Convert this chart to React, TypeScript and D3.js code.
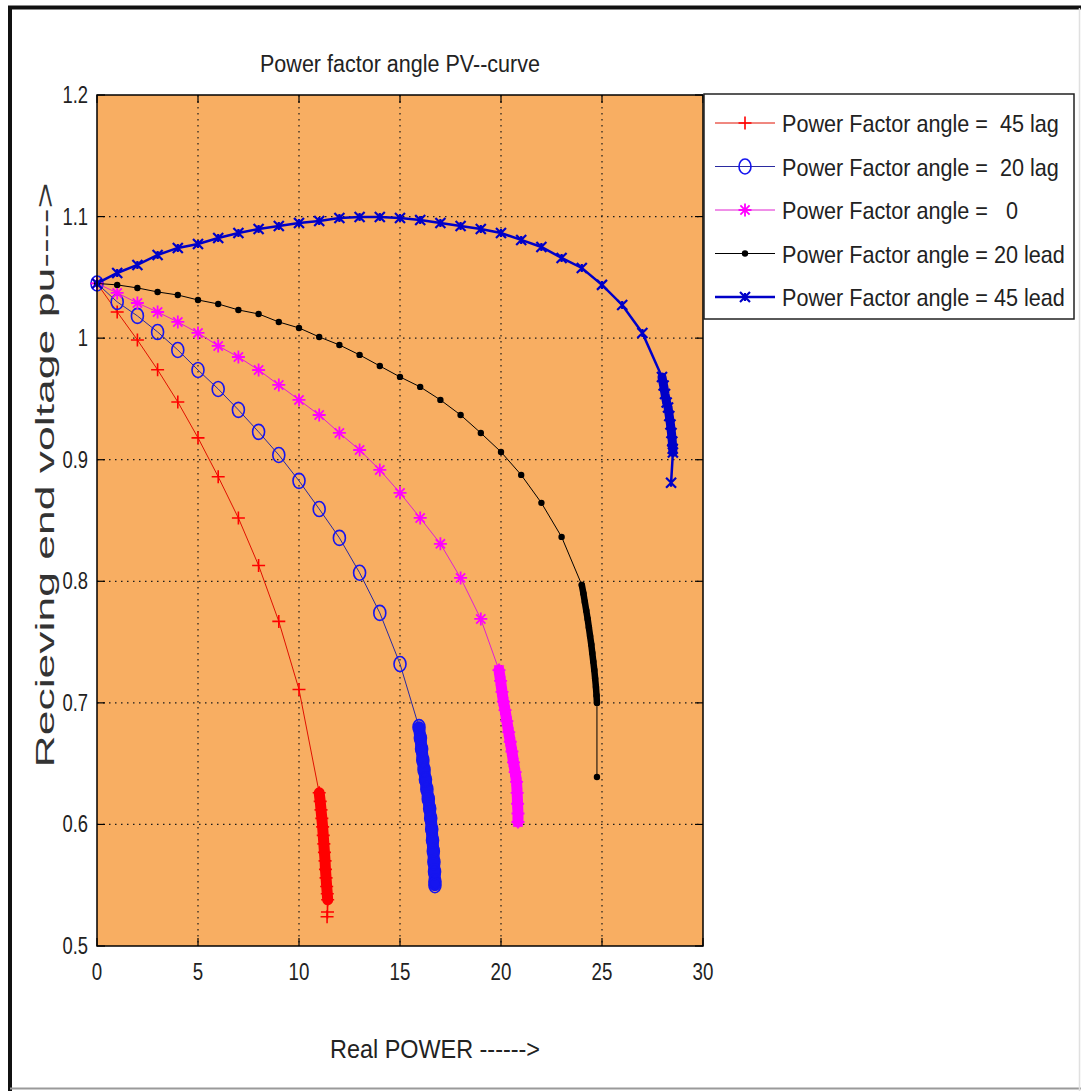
import * as d3 from "d3";

const lag45: [number, number][] = [
  [0, 1.045], [1, 1.0215], [2, 0.9985], [3, 0.974], [4, 0.9475], [5, 0.918], [6, 0.886],
  [7, 0.852], [8, 0.813], [9, 0.767], [10, 0.711],
  [11.0, 0.626], [11.05, 0.619], [11.09, 0.612], [11.13, 0.605], [11.17, 0.598], [11.2, 0.591],
  [11.23, 0.584], [11.26, 0.577], [11.29, 0.57], [11.31, 0.563], [11.34, 0.556], [11.37, 0.549],
  [11.4, 0.543], [11.42, 0.538], [11.41, 0.528], [11.39, 0.524],
];
const lag20: [number, number][] = [
  [0, 1.045], [1, 1.0298], [2, 1.0183], [3, 1.0051], [4, 0.9903], [5, 0.9738], [6, 0.9582],
  [7, 0.941], [8, 0.9229], [9, 0.9039], [10, 0.8826], [11, 0.8595], [12, 0.8357], [13, 0.807],
  [14, 0.774], [15, 0.732],
  [15.94, 0.68], [16.01, 0.671], [16.07, 0.662], [16.13, 0.653], [16.19, 0.645], [16.26, 0.637],
  [16.33, 0.629], [16.4, 0.621], [16.47, 0.613], [16.52, 0.605], [16.57, 0.596], [16.61, 0.587],
  [16.65, 0.578], [16.68, 0.569], [16.71, 0.561], [16.73, 0.553], [16.73, 0.55],
];
const unity: [number, number][] = [
  [0, 1.045], [1, 1.0372], [2, 1.0289], [3, 1.0215], [4, 1.0133], [5, 1.0043], [6, 0.9936],
  [7, 0.9845], [8, 0.9738], [9, 0.9615], [10, 0.9492], [11, 0.9368], [12, 0.922], [13, 0.908],
  [14, 0.8916], [15, 0.8727], [16, 0.8521], [17, 0.8308], [18, 0.8028], [19, 0.769],
  [19.9, 0.727], [19.98, 0.718], [20.05, 0.709], [20.12, 0.701], [20.2, 0.694], [20.29, 0.685],
  [20.38, 0.676], [20.46, 0.668], [20.54, 0.66], [20.62, 0.651], [20.7, 0.643], [20.77, 0.635],
  [20.8, 0.626], [20.82, 0.617], [20.84, 0.609], [20.84, 0.602],
];
const lead20: [number, number][] = [
  [0, 1.045], [1, 1.0438], [2, 1.0413], [3, 1.038], [4, 1.0355], [5, 1.0314], [6, 1.0281],
  [7, 1.0232], [8, 1.0199], [9, 1.0133], [10, 1.0084], [11, 1.001], [12, 0.9944], [13, 0.9862],
  [14, 0.9771], [15, 0.9681], [16, 0.9599], [17, 0.9492], [18, 0.9368], [19, 0.922], [20, 0.9064],
  [21, 0.8875], [22, 0.8645], [23, 0.8365],
  [24.0, 0.797], [24.08, 0.79], [24.15, 0.783], [24.22, 0.776], [24.29, 0.769], [24.35, 0.762],
  [24.41, 0.755], [24.47, 0.748], [24.52, 0.741], [24.57, 0.734], [24.62, 0.727], [24.66, 0.72],
  [24.7, 0.713], [24.73, 0.706], [24.75, 0.7], [24.75, 0.639],
];
const lead45: [number, number][] = [
  [0, 1.045], [1, 1.0536], [2, 1.0602], [3, 1.0684], [4, 1.0742], [5, 1.0775], [6, 1.0824],
  [7, 1.0865], [8, 1.0898], [9, 1.0923], [10, 1.0947], [11, 1.0964], [12, 1.0988], [13, 1.0997],
  [14, 1.0997], [15, 1.0988], [16, 1.0972], [17, 1.0947], [18, 1.0923], [19, 1.0898], [20, 1.0865],
  [21, 1.0808], [22, 1.075], [23, 1.066], [24, 1.0577], [25, 1.0438], [26, 1.0273], [27, 1.0043],
  [27.97, 0.968], [28.05, 0.961], [28.12, 0.954], [28.2, 0.947], [28.27, 0.943], [28.33, 0.936],
  [28.39, 0.929], [28.44, 0.922], [28.48, 0.915], [28.5, 0.909], [28.51, 0.906], [28.42, 0.881],
];

const seriesLabels = [
  "Power Factor angle =  45 lag",
  "Power Factor angle =  20 lag",
  "Power Factor angle =   0",
  "Power Factor angle = 20 lead",
  "Power Factor angle = 45 lead",
];
const xTicks = [0, 5, 10, 15, 20, 25, 30];
const yTicks = [0.5, 0.6, 0.7, 0.8, 0.9, 1, 1.1, 1.2];

// dense: index range where the solver points pile up into a solid band
const series = [
  { data: lag45, color: "#ff0000", line: "#e01000", width: 1, marker: "plus", dense: [11, 25], band: 11 },
  { data: lag20, color: "#1515f0", line: "#2a2aa0", width: 1, marker: "circle", dense: [16, 33], band: 12 },
  { data: unity, color: "#ff00ff", line: "#e020d0", width: 1, marker: "star", dense: [20, 36], band: 11 },
  { data: lead20, color: "#000000", line: "#000000", width: 1, marker: "dot", dense: [24, 39], band: 6.5 },
  { data: lead45, color: "#0000c8", line: "#0000c8", width: 2.5, marker: "x", dense: [28, 39], band: 9 },
];

function Marker({ kind, x, y, color }: { kind: string; x: number; y: number; color: string }) {
  const s = 6.5;
  if (kind === "plus")
    return <path d={`M${x - s},${y}H${x + s}M${x},${y - s}V${y + s}`} stroke={color} strokeWidth={1.6} />;
  if (kind === "circle")
    return <ellipse cx={x} cy={y} rx={6} ry={7.5} fill="none" stroke={color} strokeWidth={1.6} />;
  if (kind === "star")
    return (
      <path
        d={`M${x - s},${y}H${x + s}M${x},${y - s}V${y + s}M${x - 4.6},${y - 4.6}L${x + 4.6},${y + 4.6}M${x - 4.6},${y + 4.6}L${x + 4.6},${y - 4.6}`}
        stroke={color}
        strokeWidth={1.8}
      />
    );
  if (kind === "dot") return <circle cx={x} cy={y} r={3.2} fill={color} />;
  return (
    <path
      d={`M${x - 5},${y - 5}L${x + 5},${y + 5}M${x - 5},${y + 5}L${x + 5},${y - 5}M${x},${y - 4}V${y + 4}`}
      stroke={color}
      strokeWidth={2.2}
    />
  );
}

export default function App() {
  const W = 1081;
  const H = 1091;
  const x = d3.scaleLinear().domain([0, 30]).range([97, 703]);
  const y = d3.scaleLinear().domain([0.5, 1.2]).range([946, 95]);
  const line = d3
    .line<[number, number]>()
    .x((d) => x(d[0]))
    .y((d) => y(d[1]));
  const font = "'Liberation Sans', Arial, sans-serif";
  const [x0, x1] = x.range();
  const [y0, y1] = y.range();

  return (
    <svg width={W} height={H} style={{ position: "absolute", left: 0, top: 0, background: "#fff" }} fontFamily={font}>
      <rect x={0} y={0} width={W} height={H} fill="#fff" />
      {/* outer frame */}
      <line x1={8} x2={W} y1={7.5} y2={7.5} stroke="#111" strokeWidth={4} />
      <line x1={10} x2={10} y1={6} y2={H} stroke="#111" strokeWidth={4} />
      <line x1={10} x2={W} y1={1088.5} y2={1088.5} stroke="#9a9a9a" strokeWidth={2} />
      <line x1={1079.5} x2={1079.5} y1={8} y2={H} stroke="#e0e0e0" strokeWidth={1.5} />

      <text
        x={400}
        y={72}
        fontSize={23}
        textAnchor="middle"
        textLength={280}
        lengthAdjust="spacingAndGlyphs"
        fill="#222"
      >
        Power factor angle PV--curve
      </text>

      {/* plot area */}
      <rect x={x0} y={y1} width={x1 - x0} height={y0 - y1} fill="#f8ae62" />
      {xTicks.slice(1, -1).map((t) => (
        <line key={"gx" + t} x1={x(t)} x2={x(t)} y1={y1} y2={y0} stroke="#1a1a1a" strokeWidth={1.2} strokeDasharray="1.5 4.5" />
      ))}
      {yTicks.slice(1, -1).map((t) => (
        <line key={"gy" + t} x1={x0} x2={x1} y1={y(t)} y2={y(t)} stroke="#1a1a1a" strokeWidth={1.2} strokeDasharray="1.5 4.5" />
      ))}
      {xTicks.map((t) => (
        <g key={"tx" + t}>
          <line x1={x(t)} x2={x(t)} y1={y0} y2={y0 - 8} stroke="#000" strokeWidth={1.2} />
          <line x1={x(t)} x2={x(t)} y1={y1} y2={y1 + 8} stroke="#000" strokeWidth={1.2} />
          <text
            transform={`translate(${x(t)},${y0 + 34}) scale(0.78,1)`}
            fontSize={24}
            textAnchor="middle"
            fill="#222"
          >
            {t}
          </text>
        </g>
      ))}
      {yTicks.map((t) => (
        <g key={"ty" + t}>
          <line x1={x0} x2={x0 + 8} y1={y(t)} y2={y(t)} stroke="#000" strokeWidth={1.2} />
          <line x1={x1} x2={x1 - 8} y1={y(t)} y2={y(t)} stroke="#000" strokeWidth={1.2} />
          <text
            transform={`translate(${x0 - 9},${y(t) + 8}) scale(0.8,1)`}
            fontSize={23}
            textAnchor="end"
            fill="#222"
          >
            {d3.format("~g")(t)}
          </text>
        </g>
      ))}

      {/* curves */}
      {series.map((s, i) => (
        <g key={"s" + i}>
          <path d={line(s.data) || ""} fill="none" stroke={s.line} strokeWidth={s.width} />
          <path
            d={line(s.data.slice(s.dense[0], s.dense[1])) || ""}
            fill="none"
            stroke={s.color}
            strokeWidth={s.band}
            strokeLinecap="round"
            strokeLinejoin="round"
          />
          {s.data.map((d, j) => (
            <Marker key={j} kind={s.marker} x={x(d[0])} y={y(d[1])} color={s.color} />
          ))}
        </g>
      ))}

      <rect x={x0} y={y1} width={x1 - x0} height={y0 - y1} fill="none" stroke="#000" strokeWidth={1.5} />

      {/* axis labels */}
      <text
        x={435}
        y={1058}
        fontSize={25}
        textAnchor="middle"
        textLength={210}
        lengthAdjust="spacingAndGlyphs"
        fill="#222"
      >
        Real POWER ------&gt;
      </text>
      <text
        transform={`translate(54,${475}) rotate(-90)`}
        fontSize={25}
        textAnchor="middle"
        textLength={585}
        lengthAdjust="spacingAndGlyphs"
        fill="#333"
      >
        Recieving end voltage pu----&gt;
      </text>

      {/* legend */}
      <rect x={704} y={94} width={370} height={225} fill="#fff" stroke="#222" strokeWidth={1.5} />
      {series.map((s, i) => {
        const ly = 123 + i * 43.5;
        return (
          <g key={"l" + i}>
            <line x1={715} x2={775} y1={ly} y2={ly} stroke={s.line} strokeWidth={s.width} />
            <Marker kind={s.marker} x={745} y={ly} color={s.color} />
            <text
              transform={`translate(782,${ly + 9}) scale(0.9,1)`}
              fontSize={24}
              fill="#222"
              style={{ whiteSpace: "pre" }}
            >
              {seriesLabels[i]}
            </text>
          </g>
        );
      })}
    </svg>
  );
}
